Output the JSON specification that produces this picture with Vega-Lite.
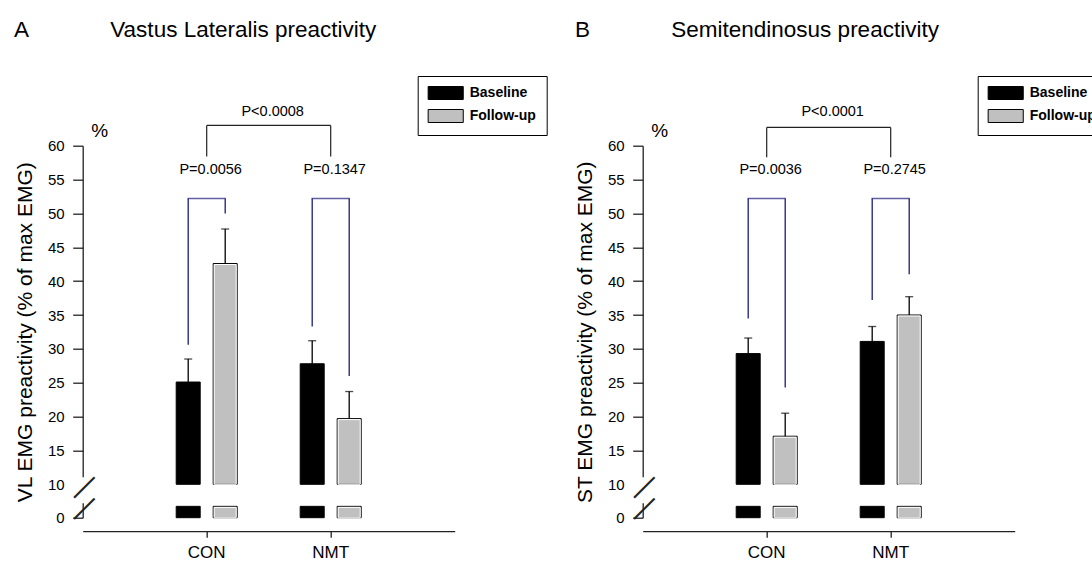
{
  "$schema": "https://vega.github.io/schema/vega-lite/v6.json",
  "background": "white",
  "autosize": {"type": "none"},
  "padding": {"left": 82.7, "top": 145.7, "right": 1009.3, "bottom": 416.3},
  "spacing": 188,
  "bounds": "flush",
  "resolve": {
    "scale": {"x": "independent", "y": "independent", "xOffset": "independent", "color": "independent"},
    "axis": {"x": "independent", "y": "independent"},
    "legend": {"color": "independent"}
  },
  "datasets": {
    "barsA": [
      {"group": "CON", "series": "Baseline", "mean": 25.1, "upper": 28.5},
      {"group": "CON", "series": "Follow-up", "mean": 42.6, "upper": 47.7},
      {"group": "NMT", "series": "Baseline", "mean": 27.8, "upper": 31.2},
      {"group": "NMT", "series": "Follow-up", "mean": 19.7, "upper": 23.7}
    ],
    "legsA": [
      {"group": "CON", "series": "Baseline", "low": 30.6, "high": 52.2},
      {"group": "CON", "series": "Follow-up", "low": 50.0, "high": 52.2},
      {"group": "NMT", "series": "Baseline", "low": 33.3, "high": 52.2},
      {"group": "NMT", "series": "Follow-up", "low": 26.0, "high": 52.2}
    ],
    "pairsA": [
      {"group": "CON", "p": "P=0.0056", "ytext": 56.4, "ybracket": 52.2, "toplow": 58.4, "tophigh": 63.0},
      {"group": "NMT", "p": "P=0.1347", "ytext": 56.4, "ybracket": 52.2, "toplow": 58.4, "tophigh": 63.0}
    ],
    "topA": [
      {"from": "CON", "to": "NMT", "label": "P<0.0008", "y": 63.0, "ytext": 65.0}
    ],
    "barsB": [
      {"group": "CON", "series": "Baseline", "mean": 29.3, "upper": 31.6},
      {"group": "CON", "series": "Follow-up", "mean": 17.1, "upper": 20.5},
      {"group": "NMT", "series": "Baseline", "mean": 31.1, "upper": 33.3},
      {"group": "NMT", "series": "Follow-up", "mean": 35.0, "upper": 37.7}
    ],
    "legsB": [
      {"group": "CON", "series": "Baseline", "low": 34.5, "high": 52.2},
      {"group": "CON", "series": "Follow-up", "low": 24.3, "high": 52.2},
      {"group": "NMT", "series": "Baseline", "low": 37.2, "high": 52.2},
      {"group": "NMT", "series": "Follow-up", "low": 41.0, "high": 52.2}
    ],
    "pairsB": [
      {"group": "CON", "p": "P=0.0036", "ytext": 56.4, "ybracket": 52.2, "toplow": 58.3, "tophigh": 62.7},
      {"group": "NMT", "p": "P=0.2745", "ytext": 56.4, "ybracket": 52.2, "toplow": 58.3, "tophigh": 62.7}
    ],
    "topB": [
      {"from": "CON", "to": "NMT", "label": "P<0.0001", "y": 62.7, "ytext": 65.0}
    ]
  },
  "hconcat": [
    {
      "width": 372,
      "height": 372,
      "title": {"text": "A\u00a0\u00a0\u00a0\u00a0\u00a0\u00a0\u00a0\u00a0\u00a0\u00a0\u00a0\u00a0\u00a0Vastus Lateralis preactivity", "anchor": "start", "frame": "group", "dx": -68.7, "offset": 34, "fontSize": 22.5},
      "resolve": {"axis": {"y": "independent"}},
      "layer": [
        {
          "data": {"name": "barsA"},
          "mark": {"type": "bar", "stroke": "#000", "strokeWidth": 1},
          "encoding": {
            "x": {"field": "group", "type": "nominal", "title": null,
                  "scale": {"domain": ["CON", "NMT"], "paddingInner": 0, "paddingOuter": 0.5},
                  "axis": {"orient": "bottom", "offset": 13.5, "labelAngle": 0, "labelFontSize": 17, "labelPadding": 7, "tickSize": 6, "tickWidth": 1.3, "domainWidth": 1.3}},
            "xOffset": {"field": "series", "type": "nominal", "scale": {"domain": ["Baseline", "Follow-up"], "paddingInner": 0.3514, "paddingOuter": 0.8514}},
            "y": {"field": "mean", "type": "quantitative", "title": "VL EMG preactivity (% of max EMG)",
                  "scale": {"domain": [0, 10, 60], "range": [372, 338.6, 0], "nice": false, "zero": false},
                  "axis": {"values": [0, 10, 15, 20, 25, 30, 35, 40, 45, 50, 55, 60], "labelFontSize": 15, "labelPadding": 8.5, "tickSize": 10, "tickWidth": 1.3, "domainWidth": 1.3, "domainDash": [15, 26, 400],
                           "tickOpacity": {"condition": {"test": "datum.value === 10", "value": 0}, "value": 1},
                           "titleFontSize": 21, "titleFontWeight": "normal", "titlePadding": 12, "labelOverlap": false}},
            "y2": {"datum": 10},
            "color": {"field": "series", "type": "nominal", "scale": {"domain": ["Baseline", "Follow-up"], "range": ["#000000", "#c0c0c0"]},
                      "legend": {"orient": "none", "legendX": 335, "legendY": -69.7, "title": null, "symbolType": "M-2.7,-1H2.7V1H-2.7Z", "symbolSize": 169, "symbolStrokeColor": "#000", "symbolStrokeWidth": 1, "symbolOffset": 11, "labelOffset": 17, "labelFontSize": 14, "labelFontWeight": "bold", "labelColor": "#000", "strokeColor": "#000", "fillColor": "white", "padding": 10, "rowPadding": 5}}
          }
        },
        {
          "data": {"name": "barsA"},
          "transform": [{"filter": "datum.series === 'Follow-up'"}],
          "mark": {"type": "bar", "filled": false, "stroke": "white", "strokeWidth": 1, "width": 22, "yOffset": 1},
          "encoding": {
            "x": {"field": "group", "type": "nominal", "title": null},
            "xOffset": {"field": "series", "type": "nominal"},
            "y": {"field": "mean", "type": "quantitative", "axis": null},
            "y2": {"datum": 10}
          }
        },
        {
          "data": {"name": "barsA"},
          "mark": {"type": "bar", "stroke": "#000", "strokeWidth": 1},
          "encoding": {
            "x": {"field": "group", "type": "nominal", "title": null},
            "xOffset": {"field": "series", "type": "nominal"},
            "y": {"datum": 3.4, "type": "quantitative",
                  "axis": {"orient": "left", "values": [9.55, 3.2], "labelExpr": "'—'", "labelAngle": -45, "labelAlign": "center", "labelBaseline": "middle", "labelPadding": 0, "ticks": false, "tickSize": 0, "domain": false, "labelFontSize": 29, "labelColor": "#222", "labelOverlap": false, "labelFlush": false,
                           "title": "%", "titleAngle": 0, "titleX": 8, "titleY": -9, "titleAlign": "left", "titleBaseline": "alphabetic", "titleFontSize": 19, "titleFontWeight": "normal", "titlePadding": 0}},
            "y2": {"datum": 0},
            "color": {"field": "series", "type": "nominal"}
          }
        },
        {
          "data": {"name": "barsA"},
          "transform": [{"filter": "datum.series === 'Follow-up'"}],
          "mark": {"type": "bar", "filled": false, "stroke": "white", "strokeWidth": 1, "width": 22, "yOffset": 1},
          "encoding": {
            "x": {"field": "group", "type": "nominal", "title": null},
            "xOffset": {"field": "series", "type": "nominal"},
            "y": {"datum": 3.4, "type": "quantitative", "axis": null},
            "y2": {"datum": 0}
          }
        },
        {
          "data": {"name": "barsA"},
          "mark": {"type": "rule", "color": "#000", "strokeWidth": 1.3},
          "encoding": {
            "x": {"field": "group", "type": "nominal", "title": null},
            "xOffset": {"field": "series", "type": "nominal"},
            "y": {"field": "mean", "type": "quantitative", "axis": null},
            "y2": {"field": "upper"}
          }
        },
        {
          "data": {"name": "barsA"},
          "mark": {"type": "tick", "color": "#000", "thickness": 1.3, "size": 8},
          "encoding": {
            "x": {"field": "group", "type": "nominal", "title": null},
            "xOffset": {"field": "series", "type": "nominal"},
            "y": {"field": "upper", "type": "quantitative", "axis": null}
          }
        },
        {
          "data": {"name": "legsA"},
          "mark": {"type": "rule", "color": "#1c1c7a", "strokeWidth": 1.3},
          "encoding": {
            "x": {"field": "group", "type": "nominal", "title": null},
            "xOffset": {"field": "series", "type": "nominal"},
            "y": {"field": "low", "type": "quantitative", "axis": null},
            "y2": {"field": "high"}
          }
        },
        {
          "data": {"name": "pairsA"},
          "mark": {"type": "tick", "color": "#1c1c7a", "thickness": 1.3, "size": 38.3},
          "encoding": {
            "x": {"field": "group", "type": "nominal", "title": null},
            "y": {"field": "ybracket", "type": "quantitative", "axis": null}
          }
        },
        {
          "data": {"name": "pairsA"},
          "mark": {"type": "rule", "color": "#222", "strokeWidth": 1.2},
          "encoding": {
            "x": {"field": "group", "type": "nominal", "title": null},
            "y": {"field": "toplow", "type": "quantitative", "axis": null},
            "y2": {"field": "tophigh"}
          }
        },
        {
          "data": {"name": "topA"},
          "mark": {"type": "rule", "color": "#222", "strokeWidth": 1.2},
          "encoding": {
            "x": {"field": "from", "type": "nominal", "title": null},
            "x2": {"field": "to"},
            "y": {"field": "y", "type": "quantitative", "axis": null}
          }
        },
        {
          "data": {"name": "pairsA"},
          "mark": {"type": "text", "fontSize": 14.5, "color": "#000", "baseline": "middle", "align": "center", "dx": 4},
          "encoding": {
            "x": {"field": "group", "type": "nominal", "title": null},
            "y": {"field": "ytext", "type": "quantitative", "axis": null},
            "text": {"field": "p"}
          }
        },
        {
          "data": {"name": "topA"},
          "mark": {"type": "text", "fontSize": 14.5, "color": "#000", "baseline": "middle", "align": "center", "dx": 4},
          "encoding": {
            "x": {"field": "from", "type": "nominal", "title": null, "bandPosition": 1},
            "y": {"field": "ytext", "type": "quantitative", "axis": null},
            "text": {"field": "label"}
          }
        }
      ]
    },
    {
      "width": 372,
      "height": 372,
      "title": {"text": "B\u00a0\u00a0\u00a0\u00a0\u00a0\u00a0\u00a0\u00a0\u00a0\u00a0\u00a0\u00a0\u00a0Semitendinosus preactivity", "anchor": "start", "frame": "group", "dx": -67.7, "offset": 34, "fontSize": 22.5},
      "resolve": {"axis": {"y": "independent"}},
      "layer": [
        {
          "data": {"name": "barsB"},
          "mark": {"type": "bar", "stroke": "#000", "strokeWidth": 1},
          "encoding": {
            "x": {"field": "group", "type": "nominal", "title": null,
                  "scale": {"domain": ["CON", "NMT"], "paddingInner": 0, "paddingOuter": 0.5},
                  "axis": {"orient": "bottom", "offset": 13.5, "labelAngle": 0, "labelFontSize": 17, "labelPadding": 7, "tickSize": 6, "tickWidth": 1.3, "domainWidth": 1.3}},
            "xOffset": {"field": "series", "type": "nominal", "scale": {"domain": ["Baseline", "Follow-up"], "paddingInner": 0.3514, "paddingOuter": 0.8514}},
            "y": {"field": "mean", "type": "quantitative", "title": "ST EMG preactivity (% of max EMG)",
                  "scale": {"domain": [0, 10, 60], "range": [372, 338.6, 0], "nice": false, "zero": false},
                  "axis": {"values": [0, 10, 15, 20, 25, 30, 35, 40, 45, 50, 55, 60], "labelFontSize": 15, "labelPadding": 8.5, "tickSize": 10, "tickWidth": 1.3, "domainWidth": 1.3, "domainDash": [15, 26, 400],
                           "tickOpacity": {"condition": {"test": "datum.value === 10", "value": 0}, "value": 1},
                           "titleFontSize": 21, "titleFontWeight": "normal", "titlePadding": 12, "labelOverlap": false}},
            "y2": {"datum": 10},
            "color": {"field": "series", "type": "nominal", "scale": {"domain": ["Baseline", "Follow-up"], "range": ["#000000", "#c0c0c0"]},
                      "legend": {"orient": "none", "legendX": 335, "legendY": -69.7, "title": null, "symbolType": "M-2.7,-1H2.7V1H-2.7Z", "symbolSize": 169, "symbolStrokeColor": "#000", "symbolStrokeWidth": 1, "symbolOffset": 11, "labelOffset": 17, "labelFontSize": 14, "labelFontWeight": "bold", "labelColor": "#000", "strokeColor": "#000", "fillColor": "white", "padding": 10, "rowPadding": 5}}
          }
        },
        {
          "data": {"name": "barsB"},
          "transform": [{"filter": "datum.series === 'Follow-up'"}],
          "mark": {"type": "bar", "filled": false, "stroke": "white", "strokeWidth": 1, "width": 22, "yOffset": 1},
          "encoding": {
            "x": {"field": "group", "type": "nominal", "title": null},
            "xOffset": {"field": "series", "type": "nominal"},
            "y": {"field": "mean", "type": "quantitative", "axis": null},
            "y2": {"datum": 10}
          }
        },
        {
          "data": {"name": "barsB"},
          "mark": {"type": "bar", "stroke": "#000", "strokeWidth": 1},
          "encoding": {
            "x": {"field": "group", "type": "nominal", "title": null},
            "xOffset": {"field": "series", "type": "nominal"},
            "y": {"datum": 3.4, "type": "quantitative",
                  "axis": {"orient": "left", "values": [9.55, 3.2], "labelExpr": "'—'", "labelAngle": -45, "labelAlign": "center", "labelBaseline": "middle", "labelPadding": 0, "ticks": false, "tickSize": 0, "domain": false, "labelFontSize": 29, "labelColor": "#222", "labelOverlap": false, "labelFlush": false,
                           "title": "%", "titleAngle": 0, "titleX": 8, "titleY": -9, "titleAlign": "left", "titleBaseline": "alphabetic", "titleFontSize": 19, "titleFontWeight": "normal", "titlePadding": 0}},
            "y2": {"datum": 0},
            "color": {"field": "series", "type": "nominal"}
          }
        },
        {
          "data": {"name": "barsB"},
          "transform": [{"filter": "datum.series === 'Follow-up'"}],
          "mark": {"type": "bar", "filled": false, "stroke": "white", "strokeWidth": 1, "width": 22, "yOffset": 1},
          "encoding": {
            "x": {"field": "group", "type": "nominal", "title": null},
            "xOffset": {"field": "series", "type": "nominal"},
            "y": {"datum": 3.4, "type": "quantitative", "axis": null},
            "y2": {"datum": 0}
          }
        },
        {
          "data": {"name": "barsB"},
          "mark": {"type": "rule", "color": "#000", "strokeWidth": 1.3},
          "encoding": {
            "x": {"field": "group", "type": "nominal", "title": null},
            "xOffset": {"field": "series", "type": "nominal"},
            "y": {"field": "mean", "type": "quantitative", "axis": null},
            "y2": {"field": "upper"}
          }
        },
        {
          "data": {"name": "barsB"},
          "mark": {"type": "tick", "color": "#000", "thickness": 1.3, "size": 8},
          "encoding": {
            "x": {"field": "group", "type": "nominal", "title": null},
            "xOffset": {"field": "series", "type": "nominal"},
            "y": {"field": "upper", "type": "quantitative", "axis": null}
          }
        },
        {
          "data": {"name": "legsB"},
          "mark": {"type": "rule", "color": "#1c1c7a", "strokeWidth": 1.3},
          "encoding": {
            "x": {"field": "group", "type": "nominal", "title": null},
            "xOffset": {"field": "series", "type": "nominal"},
            "y": {"field": "low", "type": "quantitative", "axis": null},
            "y2": {"field": "high"}
          }
        },
        {
          "data": {"name": "pairsB"},
          "mark": {"type": "tick", "color": "#1c1c7a", "thickness": 1.3, "size": 38.3},
          "encoding": {
            "x": {"field": "group", "type": "nominal", "title": null},
            "y": {"field": "ybracket", "type": "quantitative", "axis": null}
          }
        },
        {
          "data": {"name": "pairsB"},
          "mark": {"type": "rule", "color": "#222", "strokeWidth": 1.2},
          "encoding": {
            "x": {"field": "group", "type": "nominal", "title": null},
            "y": {"field": "toplow", "type": "quantitative", "axis": null},
            "y2": {"field": "tophigh"}
          }
        },
        {
          "data": {"name": "topB"},
          "mark": {"type": "rule", "color": "#222", "strokeWidth": 1.2},
          "encoding": {
            "x": {"field": "from", "type": "nominal", "title": null},
            "x2": {"field": "to"},
            "y": {"field": "y", "type": "quantitative", "axis": null}
          }
        },
        {
          "data": {"name": "pairsB"},
          "mark": {"type": "text", "fontSize": 14.5, "color": "#000", "baseline": "middle", "align": "center", "dx": 4},
          "encoding": {
            "x": {"field": "group", "type": "nominal", "title": null},
            "y": {"field": "ytext", "type": "quantitative", "axis": null},
            "text": {"field": "p"}
          }
        },
        {
          "data": {"name": "topB"},
          "mark": {"type": "text", "fontSize": 14.5, "color": "#000", "baseline": "middle", "align": "center", "dx": 4},
          "encoding": {
            "x": {"field": "from", "type": "nominal", "title": null, "bandPosition": 1},
            "y": {"field": "ytext", "type": "quantitative", "axis": null},
            "text": {"field": "label"}
          }
        }
      ]
    }
  ],
  "config": {
    "font": "Liberation Sans",
    "view": {"stroke": null},
    "axis": {"grid": false, "labelColor": "#000", "titleColor": "#000", "domainColor": "#222", "tickColor": "#222"},
    "title": {"fontWeight": "normal", "color": "#000"},
    "legend": {"labelFont": "Liberation Sans"}
  }
}
